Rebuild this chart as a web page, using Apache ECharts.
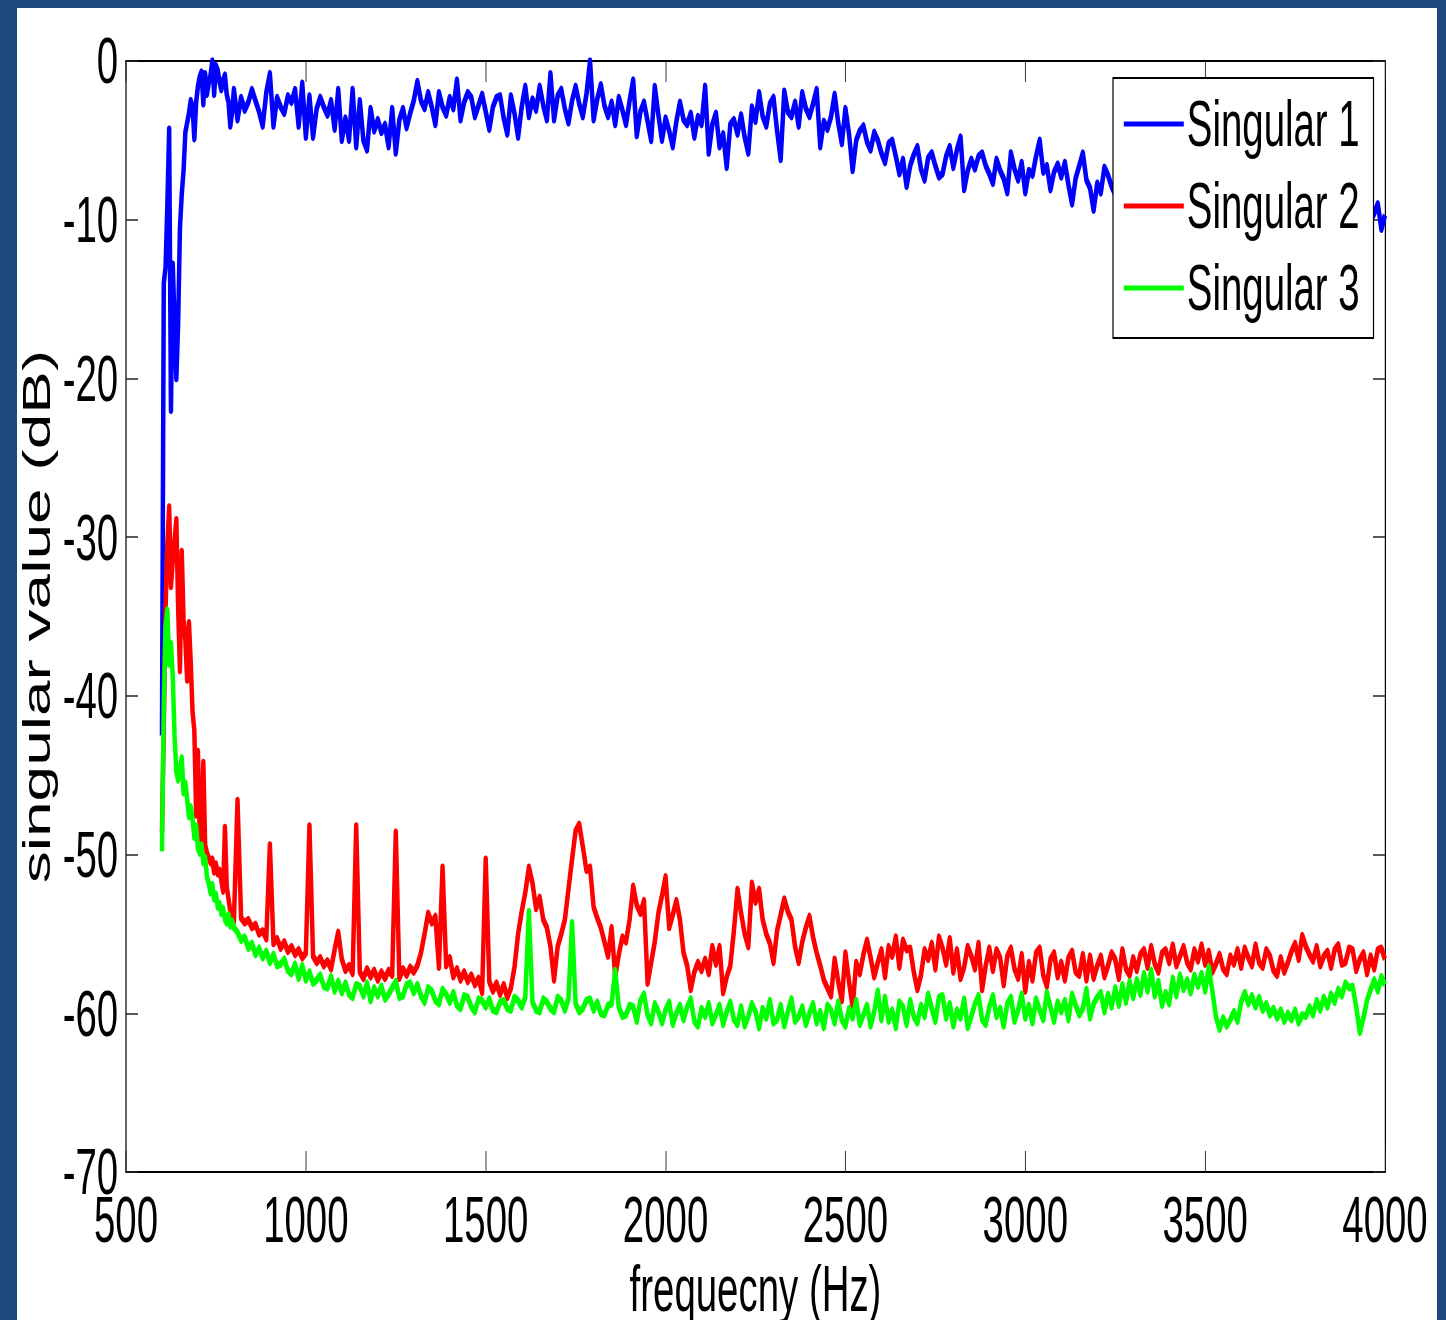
<!DOCTYPE html>
<html><head><meta charset="utf-8">
<script src="https://cdn.jsdelivr.net/npm/echarts@6/dist/echarts.min.js"></script>
<style>
html,body{margin:0;padding:0;width:1446px;height:1320px;overflow:hidden;background:#1F497D;}
#panel{position:absolute;left:17px;top:8px;width:1420px;height:1312px;background:#ffffff;}
#chart{position:absolute;left:0;top:0;width:2410px;height:1320px;transform:scaleX(0.6);transform-origin:0 0;}
</style></head><body><div id="panel"></div><div id="chart"></div>
<script>
// ---- data (frequency grid: fine part 600..800 Hz step 5, coarse part 810..4000 Hz step 10) ----
const fineStart = 600, fineStep = 5, coarseStart = 810, coarseStep = 10;
const xTicks = [500, 1000, 1500, 2000, 2500, 3000, 3500, 4000];
const yTicks = [-70, -60, -50, -40, -30, -20, -10, 0];
const seriesNames = ['Singular 1', 'Singular 2', 'Singular 3'];

const blueFine = [
-42.5,-14,-13,-9,-4.3,-22,-12.8,-16.5,-20,-16.5,
-10.5,-8.4,-6.9,-4.5,-3.9,-3.3,-2.5,-2.9,-4.9,-2.6,
-1.6,-1.0,-0.7,-2.7,-0.8,-2.1,-1.4,-0.9,0,-2.1,
-0.3,-0.6,-1.3,-1.8,-1.2,-0.9,-2.1,-2.6,-4.1,-3.2,
-1.8];
const blueCoarse = [
-3.7,-2.3,-3.1,-2.6,-1.8,-2.5,-3.2,-4.1,-2.0,-0.8,
-4.1,-2.3,-2.9,-3.3,-2.2,-2.6,-1.8,-4.1,-1.4,-4.8,
-2.2,-4.8,-3.0,-2.3,-2.9,-3.4,-2.5,-4.3,-1.8,-5.0,
-3.6,-5.0,-1.8,-5.4,-2.5,-5.0,-5.6,-3.0,-4.4,-3.7,
-4.5,-4.0,-5.4,-3.0,-5.8,-3.7,-3.0,-4.2,-3.3,-2.5,
-1.3,-2.5,-3.0,-2.0,-2.9,-4.0,-2.0,-2.9,-3.4,-2.3,
-3.0,-1.2,-3.7,-2.6,-2.0,-2.3,-3.5,-2.8,-2.1,-3.2,
-4.3,-2.9,-2.3,-2.2,-3.6,-4.6,-2.2,-3.3,-4.8,-2.9,
-1.6,-3.5,-2.4,-3.1,-1.6,-2.8,-3.7,-0.8,-3.7,-2.2,
-1.8,-3.0,-3.9,-2.5,-1.6,-2.7,-3.5,-2.1,0,-3.7,
-2.4,-1.5,-2.8,-3.5,-2.6,-4.0,-2.3,-3.1,-4.0,-2.5,
-1.2,-4.7,-3.2,-2.6,-3.8,-5.0,-1.6,-3.4,-5.0,-3.6,
-4.4,-5.4,-3.8,-2.6,-3.7,-4.0,-3.3,-4.8,-3.5,-4.0,
-1.6,-5.8,-4.0,-3.3,-5.4,-4.6,-6.7,-4.0,-3.7,-4.6,
-3.4,-4.8,-5.8,-2.9,-3.8,-2.0,-3.5,-4.1,-2.7,-2.3,
-4.4,-6.2,-1.9,-3.2,-3.5,-2.6,-4.1,-2.0,-3.0,-3.5,
-2.7,-1.8,-5.4,-3.8,-4.3,-3.5,-2.1,-3.9,-5.2,-3.0,
-4.6,-6.9,-5.0,-4.4,-4.1,-5.1,-5.6,-4.5,-5.0,-5.8,
-6.4,-5.2,-5.0,-6.0,-7.1,-6.2,-7.9,-6.6,-5.9,-5.4,
-6.8,-7.5,-6.1,-5.8,-6.6,-7.3,-7.1,-6.0,-5.4,-6.7,
-5.6,-4.8,-8.1,-6.9,-6.2,-6.8,-6.0,-5.8,-6.6,-7.1,
-7.7,-6.2,-6.9,-7.4,-8.3,-5.8,-6.8,-7.5,-6.4,-8.3,
-6.9,-7.2,-6.0,-5.0,-7.0,-6.6,-8.1,-7.0,-6.5,-7.3,
-6.4,-7.8,-9.0,-7.4,-6.6,-5.8,-7.5,-8.0,-9.4,-7.7,
-8.3,-6.7,-7.2,-7.9,-8.4,-7.6,-8.8,-7.9,-8.5,-7.7,
-9.0,-8.2,-7.8,-8.6,-9.1,-8.0,-8.4,-7.6,-8.9,-8.3,
-9.2,-8.1,-8.7,-7.9,-9.0,-8.4,-8.8,-9.5,-8.2,-8.9,
-8.5,-9.3,-8.6,-9.0,-8.2,-9.4,-8.8,-9.1,-8.5,-9.6,
-8.9,-9.2,-8.7,-9.5,-9.0,-8.6,-9.7,-9.1,-8.8,-9.4,
-9.8,-9.0,-9.3,-8.9,-9.6,-9.2,-10.0,-9.4,-9.1,-9.8,
-9.3,-10.1,-9.5,-9.0,-9.7,-10.2,-9.4,-9.8,-9.2,-10.0,
-9.6,-10.3,-9.5,-9.9,-9.3,-10.1,-9.6,-9.0,-10.6,-9.7];

const redFine = [
-48.6,-42,-34.5,-30.4,-28.1,-33.1,-31.5,-30.2,-28.9,-34.5,
-38.4,-30.9,-35.2,-36.5,-39,-35.4,-37.9,-41.0,-42.2,-47.5,
-43.5,-48.8,-49.1,-44.2,-49.4,-49.9,-50.2,-50.5,-50.3,-51.1,
-50.6,-51.2,-51.0,-51.6,-52.3,-48.3,-52.0,-52.8,-53.6,-53.9,
-54.2];
const redCoarse = [
-46.6,-54.0,-54.3,-54.1,-54.6,-54.4,-55.0,-54.8,-55.3,-49.4,
-55.6,-55.3,-55.9,-55.5,-56.1,-55.8,-56.3,-56.0,-56.5,-56.2,
-48.2,-56.4,-56.8,-56.5,-57.0,-56.7,-57.2,-56.0,-54.9,-56.6,
-57.3,-57.0,-57.5,-48.2,-57.4,-57.8,-57.2,-57.7,-57.3,-57.9,
-57.4,-57.8,-57.3,-57.6,-48.6,-57.8,-57.2,-57.6,-57.1,-57.4,
-57.0,-56.2,-55.0,-53.7,-54.3,-53.9,-57.1,-50.8,-57.0,-56.5,
-57.7,-57.2,-57.9,-57.4,-58.0,-57.6,-58.2,-57.8,-58.7,-50.3,
-58.0,-58.6,-58.1,-58.8,-58.2,-59.0,-58.4,-57.1,-55.0,-53.6,
-52.4,-50.8,-51.8,-53.4,-52.7,-54.1,-54.6,-55.8,-57.9,-55.8,
-55.0,-54.1,-52.2,-50.3,-48.5,-48.1,-49.5,-51.0,-50.8,-53.3,
-54.0,-54.6,-55.5,-56.4,-54.6,-57.7,-56.3,-55.2,-55.5,-54.1,
-52.0,-53.2,-53.7,-52.9,-58.1,-56.8,-55.5,-53.7,-52.6,-51.4,
-54.6,-53.8,-52.9,-54.1,-56.2,-57.0,-58.5,-57.4,-56.8,-57.3,
-56.6,-57.5,-55.8,-56.9,-55.8,-58.7,-57.7,-57.0,-54.8,-52.2,
-53.7,-55.0,-55.8,-51.8,-53.0,-52.2,-54.1,-55.0,-55.6,-56.8,
-54.8,-53.8,-52.8,-53.6,-54.1,-55.8,-56.8,-55.5,-54.6,-53.9,
-55.2,-56.2,-57.0,-57.9,-58.4,-58.9,-56.6,-58.0,-59.2,-56.2,
-58.0,-59.6,-56.8,-57.5,-56.3,-55.4,-56.5,-57.7,-56.8,-56.0,
-57.7,-55.8,-56.4,-55.2,-57.1,-55.4,-56.0,-55.9,-57.4,-58.5,
-57.6,-56.0,-56.6,-55.6,-57.2,-55.2,-55.9,-56.9,-55.3,-57.4,
-56.0,-57.8,-57.1,-55.8,-56.4,-57.2,-55.6,-58.5,-57.0,-55.9,
-57.3,-56.0,-56.5,-58.2,-56.4,-55.9,-57.2,-57.8,-56.3,-58.6,
-56.8,-57.9,-56.2,-55.9,-57.6,-58.3,-56.6,-56.2,-57.7,-56.8,
-57.9,-56.5,-56.1,-57.4,-57.6,-56.3,-57.9,-56.4,-57.8,-57.0,
-56.4,-57.7,-57.0,-56.2,-56.6,-57.8,-56.0,-57.2,-57.6,-56.5,
-57.3,-56.3,-56.0,-57.1,-55.8,-56.9,-57.4,-56.2,-56.0,-56.8,
-55.7,-57.0,-56.4,-55.8,-56.8,-57.2,-56.0,-56.7,-55.7,-56.9,
-56.1,-57.4,-56.9,-56.3,-57.2,-57.5,-56.4,-56.9,-56.0,-57.1,
-55.9,-56.5,-57.0,-55.7,-56.8,-57.1,-56.0,-56.4,-57.3,-57.6,
-56.5,-57.4,-56.8,-56.1,-55.6,-56.6,-55.1,-55.8,-56.3,-56.7,
-55.8,-57.0,-56.4,-56.1,-57.1,-56.0,-55.7,-56.9,-56.8,-55.9,
-56.0,-57.3,-56.6,-56.2,-57.5,-56.4,-57.2,-56.0,-55.9,-56.6];

const greenFine = [
-49.8,-40.5,-35.6,-34.6,-38.0,-36.7,-38.8,-42.5,-44.8,-45.3,
-44.6,-43.9,-46.1,-45.5,-46.5,-47.6,-47.0,-47.8,-48.9,-48.2,
-49.6,-49.9,-49.4,-50.5,-50.2,-51.4,-51.8,-52.4,-51.9,-52.8,
-52.5,-53.3,-53.1,-53.7,-53.4,-54.1,-54.3,-53.8,-54.5,-54.2,
-54.6];
const greenCoarse = [
-54.9,-55.4,-55.2,-55.9,-55.6,-56.3,-55.9,-56.5,-56.1,-56.8,
-56.3,-57.0,-56.9,-56.6,-57.3,-57.5,-56.9,-57.8,-57.0,-57.9,
-57.4,-58.1,-57.9,-57.6,-58.3,-58.4,-57.7,-58.6,-58.0,-58.7,
-58.1,-58.8,-59.0,-58.2,-58.3,-58.9,-58.1,-59.2,-58.4,-58.9,
-58.3,-59.1,-58.8,-58.4,-58.0,-59.0,-58.9,-58.2,-58.1,-58.7,
-58.2,-58.9,-59.3,-58.4,-58.6,-59.2,-59.4,-58.5,-58.8,-59.3,
-58.7,-59.5,-59.7,-58.9,-59.0,-59.6,-59.9,-59.1,-59.2,-59.6,
-59.1,-59.8,-59.9,-59.3,-59.2,-59.7,-59.8,-59.0,-59.2,-59.6,
-59.0,-53.6,-59.3,-59.8,-59.9,-59.1,-59.3,-59.7,-59.9,-59.0,
-59.2,-59.8,-59.1,-54.3,-59.4,-59.9,-59.7,-59.2,-59.1,-59.8,
-59.3,-60.0,-60.1,-59.5,-59.4,-57.3,-59.6,-60.2,-60.1,-59.5,
-59.6,-60.5,-59.2,-58.8,-60.1,-60.6,-59.4,-59.9,-60.6,-59.8,
-59.3,-60.7,-60.0,-59.5,-60.4,-59.6,-59.1,-60.5,-60.8,-59.7,
-60.2,-59.4,-60.6,-60.1,-59.5,-60.7,-59.9,-59.3,-60.4,-60.7,
-59.6,-60.8,-60.2,-59.4,-59.9,-60.9,-59.7,-60.3,-59.2,-60.6,
-60.4,-59.5,-60.8,-59.9,-59.1,-60.5,-60.2,-59.6,-60.7,-60.0,
-59.4,-60.6,-59.9,-60.9,-59.5,-59.8,-60.6,-59.3,-60.4,-60.8,
-59.7,-60.3,-59.2,-60.7,-60.1,-59.5,-60.8,-59.9,-58.6,-60.4,
-59.0,-60.5,-59.8,-60.9,-59.3,-59.6,-60.7,-59.2,-60.2,-60.6,
-59.5,-60.2,-58.8,-59.7,-60.5,-59.0,-58.9,-60.3,-59.4,-60.8,
-59.8,-60.3,-59.1,-60.9,-60.2,-59.4,-58.9,-60.4,-60.7,-59.6,
-58.9,-60.2,-59.7,-60.8,-59.4,-59.0,-60.5,-59.8,-58.8,-60.3,
-59.5,-60.6,-59.1,-59.8,-60.4,-58.7,-59.6,-60.5,-59.3,-59.9,
-59.2,-60.4,-58.8,-59.5,-60.1,-59.7,-58.5,-60.3,-59.4,-59.0,
-58.7,-59.9,-58.8,-59.6,-58.4,-59.5,-58.2,-59.3,-58.0,-59.0,
-57.9,-58.8,-57.5,-58.6,-57.3,-58.9,-58.0,-59.5,-58.7,-59.4,
-57.8,-58.9,-57.6,-58.5,-57.9,-58.7,-57.6,-58.3,-57.5,-58.6,
-57.1,-58.6,-60.2,-61.0,-60.3,-60.8,-60.4,-59.9,-60.5,-59.3,
-58.7,-59.4,-58.9,-59.6,-59.0,-59.8,-59.4,-60.1,-59.7,-60.3,
-59.8,-60.5,-60.0,-60.4,-59.8,-60.6,-60.1,-60.2,-59.6,-60.1,
-59.2,-59.8,-59.0,-59.6,-58.8,-59.3,-58.5,-58.9,-58.1,-58.4,
-58.3,-59.6,-61.2,-60.3,-59.2,-58.5,-57.9,-58.6,-57.7,-58.2];

// ---- build (frequency, value) pairs ----
function pairs(fine, coarse) {
  const out = [];
  fine.forEach((v, i) => out.push([fineStart + i * fineStep, v]));
  coarse.forEach((v, i) => out.push([coarseStart + i * coarseStep, v]));
  return out;
}

const SX = 0.6; // horizontal condensation of the whole figure
const FONT = "'Liberation Sans', Arial, sans-serif";
const colors = ['#0000FF', '#FF0000', '#00FF00'];
const chart = echarts.init(document.getElementById('chart'), null, {renderer: 'svg'});

const axisLine = {show: true, onZero: false, lineStyle: {color: '#000', width: 2}};
const tickStyle = {color: '#222', width: 1.5};
const lbl = {fontSize: 64, color: '#000', fontFamily: FONT};
const plain = v => String(v);

chart.setOption({
  animation: false,
  backgroundColor: 'transparent',
  grid: {left: 126 / SX, right: (1446 - 1385) / SX, top: 61, bottom: 148, containLabel: false, outerBoundsMode: 'none'},
  legend: {
    orient: 'vertical', left: 1113 / SX, top: 78,
    data: seriesNames, icon: 'rect', itemWidth: 100, itemHeight: 5, itemGap: 18,
    padding: [14, 23, 18, 18],
    backgroundColor: '#fff', borderColor: '#000', borderWidth: 2,
    textStyle: {fontSize: 64, lineHeight: 64, color: '#000', fontFamily: FONT}
  },
  xAxis: [
    {type: 'value', min: xTicks[0], max: xTicks[xTicks.length - 1], interval: xTicks[1] - xTicks[0], position: 'bottom',
     axisLine: axisLine, axisTick: {inside: true, length: 21, lineStyle: tickStyle},
     axisLabel: Object.assign({margin: 16, showMinLabel: true, showMaxLabel: true, formatter: plain}, lbl),
     splitLine: {show: false},
     name: 'frequecny (Hz)', nameLocation: 'middle', nameGap: 78, nameTextStyle: lbl},
    {type: 'value', min: xTicks[0], max: xTicks[xTicks.length - 1], interval: xTicks[1] - xTicks[0], position: 'top',
     axisLine: axisLine, axisTick: {inside: true, length: 21, lineStyle: tickStyle},
     axisLabel: {show: false}, splitLine: {show: false}}
  ],
  yAxis: [
    {type: 'value', min: yTicks[0], max: yTicks[yTicks.length - 1], interval: yTicks[1] - yTicks[0], position: 'left',
     axisLine: axisLine, axisTick: {inside: true, length: 20, lineStyle: tickStyle},
     axisLabel: Object.assign({margin: 13, showMinLabel: true, showMaxLabel: true, formatter: plain}, lbl),
     splitLine: {show: false},
     name: 'singular value (dB)', nameLocation: 'middle', nameGap: 115, nameRotate: 90, nameTextStyle: lbl},
    {type: 'value', min: yTicks[0], max: yTicks[yTicks.length - 1], interval: yTicks[1] - yTicks[0], position: 'right',
     axisLine: axisLine, axisTick: {inside: true, length: 20, lineStyle: tickStyle},
     axisLabel: {show: false}, splitLine: {show: false}}
  ],
  series: [
    [blueFine, blueCoarse], [redFine, redCoarse], [greenFine, greenCoarse]
  ].map((d, i) => ({
    type: 'line', name: seriesNames[i], xAxisIndex: 0, yAxisIndex: 0,
    data: pairs(d[0], d[1]), showSymbol: false, symbol: 'none',
    lineStyle: {color: colors[i], width: 7.5, join: 'round'}, itemStyle: {color: colors[i]}, color: colors[i]
  }))
});
</script></body></html>
